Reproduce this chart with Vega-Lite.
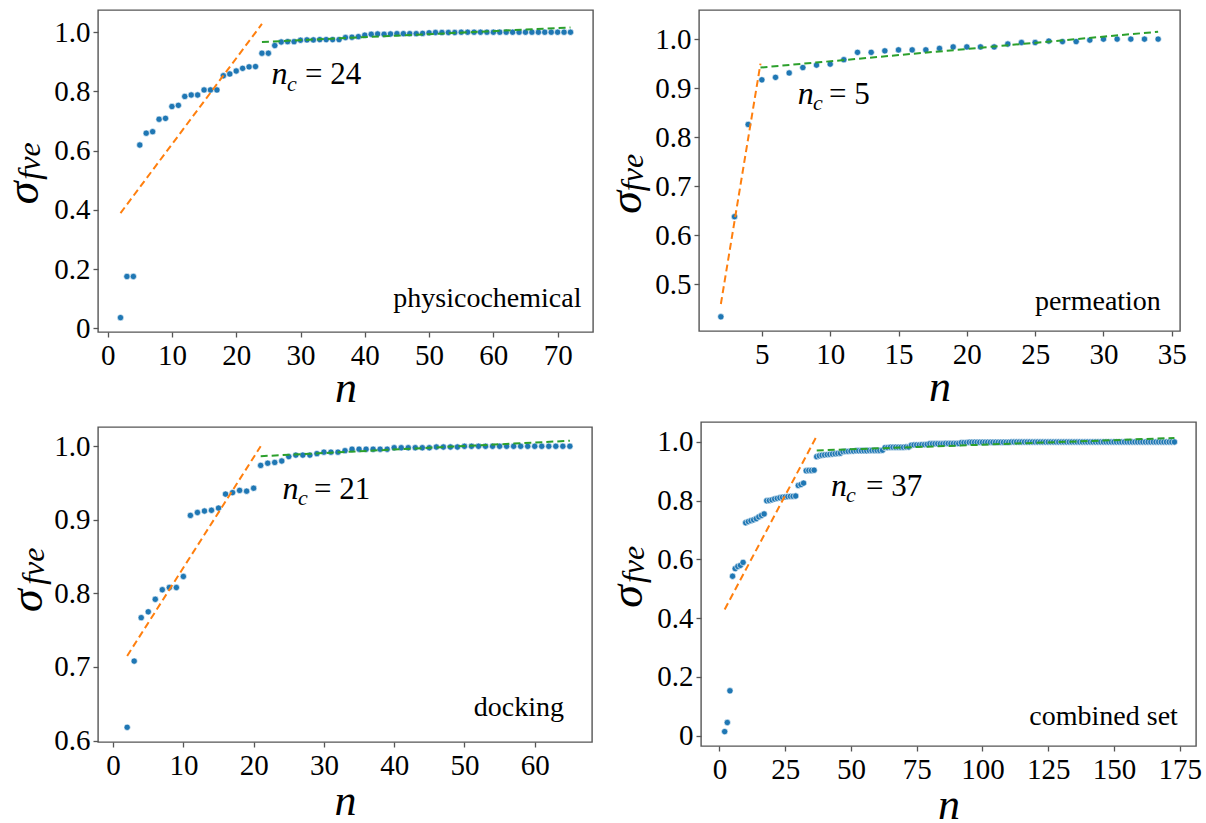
{
"$schema": "https://vega.github.io/schema/vega-lite/v6.json",
"padding": {"left": 0, "top": 9, "right": 5, "bottom": 5},
"background": "white",
"config": {
  "view": {"stroke": "#555", "strokeWidth": 1.4},
  "axis": {"domain": false, "grid": false, "labelFont": "Liberation Serif", "labelFontSize": 29, "labelColor": "black", "tickColor": "#555", "tickSize": 5, "tickWidth": 1.3, "labelFlush": false, "labelOverlap": false, "titleFont": "Liberation Serif", "titleFontStyle": "italic", "titleFontWeight": "normal", "titleFontSize": 44, "titleColor": "black"},
  "axisY": {"labelPadding": 3},
  "axisX": {"labelPadding": 4, "titlePadding": -4}
},
"datasets": {
  "p1": [{"n":2,"v":0.036},{"n":3,"v":0.175},{"n":4,"v":0.175},{"n":5,"v":0.619},{"n":6,"v":0.659},{"n":7,"v":0.664},{"n":8,"v":0.706},{"n":9,"v":0.709},{"n":10,"v":0.749},{"n":11,"v":0.753},{"n":12,"v":0.783},{"n":13,"v":0.788},{"n":14,"v":0.788},{"n":15,"v":0.805},{"n":16,"v":0.805},{"n":17,"v":0.805},{"n":18,"v":0.853},{"n":19,"v":0.859},{"n":20,"v":0.869},{"n":21,"v":0.878},{"n":22,"v":0.883},{"n":23,"v":0.884},{"n":24,"v":0.929},{"n":25,"v":0.929},{"n":26,"v":0.955},{"n":27,"v":0.967},{"n":28,"v":0.968},{"n":29,"v":0.968},{"n":30,"v":0.973},{"n":31,"v":0.974},{"n":32,"v":0.974},{"n":33,"v":0.975},{"n":34,"v":0.975},{"n":35,"v":0.975},{"n":36,"v":0.975},{"n":37,"v":0.982},{"n":38,"v":0.983},{"n":39,"v":0.985},{"n":40,"v":0.99},{"n":41,"v":0.993},{"n":42,"v":0.994},{"n":43,"v":0.993},{"n":44,"v":0.994},{"n":45,"v":0.995},{"n":46,"v":0.995},{"n":47,"v":0.995},{"n":48,"v":0.995},{"n":49,"v":0.996},{"n":50,"v":0.998},{"n":51,"v":0.999},{"n":52,"v":0.999},{"n":53,"v":0.999},{"n":54,"v":0.999},{"n":55,"v":1.0},{"n":56,"v":1.0},{"n":57,"v":1.0},{"n":58,"v":1.0},{"n":59,"v":1.0},{"n":60,"v":1.0},{"n":61,"v":1.0},{"n":62,"v":1.0},{"n":63,"v":1.0},{"n":64,"v":1.0},{"n":65,"v":1.0},{"n":66,"v":1.0},{"n":67,"v":1.0},{"n":68,"v":1.0},{"n":69,"v":1.0},{"n":70,"v":1.0},{"n":71,"v":1.0},{"n":72,"v":1.0}],
  "p2": [{"n":2,"v":0.434},{"n":3,"v":0.638},{"n":4,"v":0.826},{"n":5,"v":0.917},{"n":6,"v":0.922},{"n":7,"v":0.931},{"n":8,"v":0.942},{"n":9,"v":0.947},{"n":10,"v":0.949},{"n":11,"v":0.958},{"n":12,"v":0.973},{"n":13,"v":0.973},{"n":14,"v":0.976},{"n":15,"v":0.978},{"n":16,"v":0.978},{"n":17,"v":0.978},{"n":18,"v":0.981},{"n":19,"v":0.984},{"n":20,"v":0.984},{"n":21,"v":0.984},{"n":22,"v":0.984},{"n":23,"v":0.99},{"n":24,"v":0.993},{"n":25,"v":0.993},{"n":26,"v":0.996},{"n":27,"v":0.995},{"n":28,"v":0.995},{"n":29,"v":0.998},{"n":30,"v":1.0},{"n":31,"v":1.0},{"n":32,"v":1.0},{"n":33,"v":1.0},{"n":34,"v":1.0}],
  "p3": [{"n":2,"v":0.618},{"n":3,"v":0.708},{"n":4,"v":0.767},{"n":5,"v":0.775},{"n":6,"v":0.792},{"n":7,"v":0.805},{"n":8,"v":0.808},{"n":9,"v":0.808},{"n":10,"v":0.823},{"n":11,"v":0.906},{"n":12,"v":0.91},{"n":13,"v":0.912},{"n":14,"v":0.913},{"n":15,"v":0.916},{"n":16,"v":0.935},{"n":17,"v":0.937},{"n":18,"v":0.94},{"n":19,"v":0.939},{"n":20,"v":0.943},{"n":21,"v":0.974},{"n":22,"v":0.977},{"n":23,"v":0.978},{"n":24,"v":0.98},{"n":25,"v":0.986},{"n":26,"v":0.988},{"n":27,"v":0.988},{"n":28,"v":0.988},{"n":29,"v":0.99},{"n":30,"v":0.992},{"n":31,"v":0.992},{"n":32,"v":0.992},{"n":33,"v":0.994},{"n":34,"v":0.996},{"n":35,"v":0.996},{"n":36,"v":0.996},{"n":37,"v":0.996},{"n":38,"v":0.996},{"n":39,"v":0.996},{"n":40,"v":0.998},{"n":41,"v":0.998},{"n":42,"v":0.998},{"n":43,"v":0.998},{"n":44,"v":0.998},{"n":45,"v":0.998},{"n":46,"v":0.999},{"n":47,"v":0.999},{"n":48,"v":0.999},{"n":49,"v":0.999},{"n":50,"v":1.0},{"n":51,"v":1.0},{"n":52,"v":1.0},{"n":53,"v":1.0},{"n":54,"v":1.0},{"n":55,"v":1.0},{"n":56,"v":1.0},{"n":57,"v":1.0},{"n":58,"v":1.0},{"n":59,"v":1.0},{"n":60,"v":1.0},{"n":61,"v":1.0},{"n":62,"v":1.0},{"n":63,"v":1.0},{"n":64,"v":1.0},{"n":65,"v":1.0}],
  "p4": [{"n":2,"v":0.014},{"n":3,"v":0.045},{"n":4,"v":0.153},{"n":5,"v":0.543},{"n":6,"v":0.569},{"n":7,"v":0.576},{"n":8,"v":0.58},{"n":9,"v":0.59},{"n":10,"v":0.725},{"n":11,"v":0.729},{"n":12,"v":0.732},{"n":13,"v":0.735},{"n":14,"v":0.739},{"n":15,"v":0.745},{"n":16,"v":0.75},{"n":17,"v":0.755},{"n":18,"v":0.8},{"n":19,"v":0.801},{"n":20,"v":0.803},{"n":21,"v":0.806},{"n":22,"v":0.808},{"n":23,"v":0.81},{"n":24,"v":0.812},{"n":25,"v":0.813},{"n":26,"v":0.814},{"n":27,"v":0.815},{"n":28,"v":0.815},{"n":29,"v":0.816},{"n":30,"v":0.852},{"n":31,"v":0.855},{"n":32,"v":0.86},{"n":33,"v":0.902},{"n":34,"v":0.903},{"n":35,"v":0.903},{"n":36,"v":0.904},{"n":37,"v":0.95},{"n":38,"v":0.953},{"n":39,"v":0.955},{"n":40,"v":0.956},{"n":41,"v":0.957},{"n":42,"v":0.958},{"n":43,"v":0.959},{"n":44,"v":0.96},{"n":45,"v":0.961},{"n":46,"v":0.962},{"n":47,"v":0.967},{"n":48,"v":0.968},{"n":49,"v":0.968},{"n":50,"v":0.969},{"n":51,"v":0.969},{"n":52,"v":0.97},{"n":53,"v":0.97},{"n":54,"v":0.97},{"n":55,"v":0.97},{"n":56,"v":0.97},{"n":57,"v":0.971},{"n":58,"v":0.971},{"n":59,"v":0.971},{"n":60,"v":0.971},{"n":61,"v":0.971},{"n":62,"v":0.972},{"n":63,"v":0.981},{"n":64,"v":0.981},{"n":65,"v":0.982},{"n":66,"v":0.982},{"n":67,"v":0.982},{"n":68,"v":0.982},{"n":69,"v":0.982},{"n":70,"v":0.982},{"n":71,"v":0.983},{"n":72,"v":0.983},{"n":73,"v":0.989},{"n":74,"v":0.99},{"n":75,"v":0.99},{"n":76,"v":0.99},{"n":77,"v":0.991},{"n":78,"v":0.991},{"n":79,"v":0.992},{"n":80,"v":0.994},{"n":81,"v":0.994},{"n":82,"v":0.994},{"n":83,"v":0.994},{"n":84,"v":0.994},{"n":85,"v":0.994},{"n":86,"v":0.995},{"n":87,"v":0.995},{"n":88,"v":0.995},{"n":89,"v":0.995},{"n":90,"v":0.995},{"n":91,"v":0.995},{"n":92,"v":0.998},{"n":93,"v":0.998},{"n":94,"v":0.998},{"n":95,"v":0.999},{"n":96,"v":0.999},{"n":97,"v":0.999},{"n":98,"v":0.999},{"n":99,"v":0.999},{"n":100,"v":0.999},{"n":101,"v":0.999},{"n":102,"v":0.999},{"n":103,"v":0.999},{"n":104,"v":0.999},{"n":105,"v":0.999},{"n":106,"v":0.999},{"n":107,"v":0.999},{"n":108,"v":0.999},{"n":109,"v":0.999},{"n":110,"v":0.999},{"n":111,"v":1.0},{"n":112,"v":1.0},{"n":113,"v":1.0},{"n":114,"v":1.0},{"n":115,"v":1.0},{"n":116,"v":1.0},{"n":117,"v":1.0},{"n":118,"v":1.0},{"n":119,"v":1.0},{"n":120,"v":1.0},{"n":121,"v":1.0},{"n":122,"v":1.0},{"n":123,"v":1.0},{"n":124,"v":1.0},{"n":125,"v":1.0},{"n":126,"v":1.0},{"n":127,"v":1.0},{"n":128,"v":1.0},{"n":129,"v":1.0},{"n":130,"v":1.0},{"n":131,"v":1.0},{"n":132,"v":1.0},{"n":133,"v":1.0},{"n":134,"v":1.0},{"n":135,"v":1.0},{"n":136,"v":1.0},{"n":137,"v":1.0},{"n":138,"v":1.0},{"n":139,"v":1.0},{"n":140,"v":1.0},{"n":141,"v":1.0},{"n":142,"v":1.0},{"n":143,"v":1.0},{"n":144,"v":1.0},{"n":145,"v":1.0},{"n":146,"v":1.0},{"n":147,"v":1.0},{"n":148,"v":1.0},{"n":149,"v":1.0},{"n":150,"v":1.0},{"n":151,"v":1.0},{"n":152,"v":1.0},{"n":153,"v":1.0},{"n":154,"v":1.0},{"n":155,"v":1.0},{"n":156,"v":1.0},{"n":157,"v":1.0},{"n":158,"v":1.0},{"n":159,"v":1.0},{"n":160,"v":1.0},{"n":161,"v":1.0},{"n":162,"v":1.0},{"n":163,"v":1.0},{"n":164,"v":1.0},{"n":165,"v":1.0},{"n":166,"v":1.0},{"n":167,"v":1.0},{"n":168,"v":1.0},{"n":169,"v":1.0},{"n":170,"v":1.0},{"n":171,"v":1.0},{"n":172,"v":1.0},{"n":173,"v":1.0}]
},
"concat": [
  {"width": 495, "height": 322, "data": {"name": "p1"},
   "layer": [
    {"mark": {"type": "point", "filled": true, "size": 40, "color": "#1f77b4", "stroke": "white", "strokeWidth": 0.6, "opacity": 1},
     "encoding": {
      "x": {"field": "n", "type": "quantitative", "scale": {"domain": [-1.5, 75.5], "nice": false, "zero": false}, "axis": {"title": "n", "values": [0,10,20,30,40,50,60,70]}},
      "y": {"field": "v", "type": "quantitative", "scale": {"domain": [-0.0125, 1.075], "nice": false, "zero": false}, "axis": {"title": null, "values": [0,0.2,0.4,0.6,0.8,1.0], "labelExpr": "datum.value == 0 ? '0' : format(datum.value, '.1f')"}}}},
    {"data": {"values": [{"n": 2, "v": 0.389}, {"n": 24, "v": 1.028}]}, "mark": {"type": "line", "color": "#ff7f0e", "strokeDash": [7, 4], "strokeWidth": 2}, "encoding": {"x": {"field": "n", "type": "quantitative"}, "y": {"field": "v", "type": "quantitative"}}},
    {"data": {"values": [{"n": 24, "v": 0.967}, {"n": 72, "v": 1.016}]}, "mark": {"type": "line", "color": "#2ca02c", "strokeDash": [7, 4], "strokeWidth": 2}, "encoding": {"x": {"field": "n", "type": "quantitative"}, "y": {"field": "v", "type": "quantitative"}}},
    {"data": {"values": [{}]}, "mark": {"type": "text", "text": "σ", "font": "Liberation Serif", "fontStyle": "italic", "fontSize": 46, "angle": 270, "align": "center", "baseline": "alphabetic", "color": "black"}, "encoding": {"x": {"datum": -10.756, "type": "quantitative"}, "y": {"datum": 0.457, "type": "quantitative"}}},
    {"data": {"values": [{}]}, "mark": {"type": "text", "text": "fve", "font": "Liberation Serif", "fontStyle": "italic", "fontSize": 32, "angle": 270, "align": "center", "baseline": "alphabetic", "color": "black"}, "encoding": {"x": {"datum": -10.445, "type": "quantitative"}, "y": {"datum": 0.565, "type": "quantitative"}}},
    {"data": {"values": [{}]}, "mark": {"type": "text", "text": "n", "font": "Liberation Serif", "fontStyle": "italic", "fontSize": 32, "align": "left", "baseline": "alphabetic", "color": "black"}, "encoding": {"x": {"datum": 25.5, "type": "quantitative"}, "y": {"datum": 0.825, "type": "quantitative"}}},
    {"data": {"values": [{}]}, "mark": {"type": "text", "text": "c", "font": "Liberation Serif", "fontStyle": "italic", "fontSize": 22, "align": "left", "baseline": "alphabetic", "color": "black"}, "encoding": {"x": {"datum": 27.9, "type": "quantitative"}, "y": {"datum": 0.801, "type": "quantitative"}}},
    {"data": {"values": [{}]}, "mark": {"type": "text", "text": "= 24", "font": "Liberation Serif", "fontSize": 31, "align": "left", "baseline": "alphabetic", "color": "black"}, "encoding": {"x": {"datum": 30.7, "type": "quantitative"}, "y": {"datum": 0.825, "type": "quantitative"}}},
    {"data": {"values": [{}]}, "mark": {"type": "text", "text": "physicochemical", "font": "Liberation Serif", "fontSize": 28, "align": "right", "baseline": "alphabetic", "color": "black"}, "encoding": {"x": {"datum": 73.7, "type": "quantitative"}, "y": {"datum": 0.072, "type": "quantitative"}}}
   ]},
  {"width": 481, "height": 321, "data": {"name": "p2"},
   "layer": [
    {"mark": {"type": "point", "filled": true, "size": 40, "color": "#1f77b4", "stroke": "white", "strokeWidth": 0.6, "opacity": 1},
     "encoding": {
      "x": {"field": "n", "type": "quantitative", "scale": {"domain": [0.4, 35.6], "nice": false, "zero": false}, "axis": {"title": "n", "values": [5,10,15,20,25,30,35]}},
      "y": {"field": "v", "type": "quantitative", "scale": {"domain": [0.405, 1.0593], "nice": false, "zero": false}, "axis": {"title": null, "values": [0.5,0.6,0.7,0.8,0.9,1.0], "format": ".1f"}}}},
    {"data": {"values": [{"n": 2, "v": 0.46}, {"n": 4.9, "v": 0.95}]}, "mark": {"type": "line", "color": "#ff7f0e", "strokeDash": [7, 4], "strokeWidth": 2}, "encoding": {"x": {"field": "n", "type": "quantitative"}, "y": {"field": "v", "type": "quantitative"}}},
    {"data": {"values": [{"n": 4.9, "v": 0.942}, {"n": 34, "v": 1.015}]}, "mark": {"type": "line", "color": "#2ca02c", "strokeDash": [7, 4], "strokeWidth": 2}, "encoding": {"x": {"field": "n", "type": "quantitative"}, "y": {"field": "v", "type": "quantitative"}}},
    {"data": {"values": [{}]}, "mark": {"type": "text", "text": "σ", "font": "Liberation Serif", "fontStyle": "italic", "fontSize": 46, "angle": 270, "align": "center", "baseline": "alphabetic", "color": "black"}, "encoding": {"x": {"datum": -3.84, "type": "quantitative"}, "y": {"datum": 0.667, "type": "quantitative"}}},
    {"data": {"values": [{}]}, "mark": {"type": "text", "text": "fve", "font": "Liberation Serif", "fontStyle": "italic", "fontSize": 32, "angle": 270, "align": "center", "baseline": "alphabetic", "color": "black"}, "encoding": {"x": {"datum": -3.7, "type": "quantitative"}, "y": {"datum": 0.728, "type": "quantitative"}}},
    {"data": {"values": [{}]}, "mark": {"type": "text", "text": "n", "font": "Liberation Serif", "fontStyle": "italic", "fontSize": 32, "align": "left", "baseline": "alphabetic", "color": "black"}, "encoding": {"x": {"datum": 7.62, "type": "quantitative"}, "y": {"datum": 0.867, "type": "quantitative"}}},
    {"data": {"values": [{}]}, "mark": {"type": "text", "text": "c", "font": "Liberation Serif", "fontStyle": "italic", "fontSize": 22, "align": "left", "baseline": "alphabetic", "color": "black"}, "encoding": {"x": {"datum": 8.74, "type": "quantitative"}, "y": {"datum": 0.855, "type": "quantitative"}}},
    {"data": {"values": [{}]}, "mark": {"type": "text", "text": "= 5", "font": "Liberation Serif", "fontSize": 31, "align": "left", "baseline": "alphabetic", "color": "black"}, "encoding": {"x": {"datum": 9.91, "type": "quantitative"}, "y": {"datum": 0.867, "type": "quantitative"}}},
    {"data": {"values": [{}]}, "mark": {"type": "text", "text": "permeation", "font": "Liberation Serif", "fontSize": 28, "align": "right", "baseline": "alphabetic", "color": "black"}, "encoding": {"x": {"datum": 34.2, "type": "quantitative"}, "y": {"datum": 0.447, "type": "quantitative"}}}
   ]},
  {"width": 494, "height": 315, "data": {"name": "p3"},
   "title": {"text": " ", "orient": "top", "fontSize": 2, "offset": 3},
   "layer": [
    {"mark": {"type": "point", "filled": true, "size": 40, "color": "#1f77b4", "stroke": "white", "strokeWidth": 0.6, "opacity": 1},
     "encoding": {
      "x": {"field": "n", "type": "quantitative", "scale": {"domain": [-2.15, 68.15], "nice": false, "zero": false}, "axis": {"title": "n", "titlePadding": -1, "values": [0,10,20,30,40,50,60]}},
      "y": {"field": "v", "type": "quantitative", "scale": {"domain": [0.598, 1.0262], "nice": false, "zero": false}, "axis": {"title": null, "values": [0.6,0.65,0.7,0.75,0.8,0.85,0.9,0.95,1.0], "labelExpr": "abs(datum.value*10 - round(datum.value*10)) < 0.01 ? format(datum.value, '.1f') : ''"}}}},
    {"data": {"values": [{"n": 2, "v": 0.715}, {"n": 21, "v": 1.0}]}, "mark": {"type": "line", "color": "#ff7f0e", "strokeDash": [7, 4], "strokeWidth": 2}, "encoding": {"x": {"field": "n", "type": "quantitative"}, "y": {"field": "v", "type": "quantitative"}}},
    {"data": {"values": [{"n": 21, "v": 0.9865}, {"n": 65, "v": 1.0075}]}, "mark": {"type": "line", "color": "#2ca02c", "strokeDash": [7, 4], "strokeWidth": 2}, "encoding": {"x": {"field": "n", "type": "quantitative"}, "y": {"field": "v", "type": "quantitative"}}},
    {"data": {"values": [{}]}, "mark": {"type": "text", "text": "σ", "font": "Liberation Serif", "fontStyle": "italic", "fontSize": 46, "angle": 270, "align": "center", "baseline": "alphabetic", "color": "black"}, "encoding": {"x": {"datum": -10.12, "type": "quantitative"}, "y": {"datum": 0.79, "type": "quantitative"}}},
    {"data": {"values": [{}]}, "mark": {"type": "text", "text": "fve", "font": "Liberation Serif", "fontStyle": "italic", "fontSize": 32, "angle": 270, "align": "center", "baseline": "alphabetic", "color": "black"}, "encoding": {"x": {"datum": -9.83, "type": "quantitative"}, "y": {"datum": 0.837, "type": "quantitative"}}},
    {"data": {"values": [{}]}, "mark": {"type": "text", "text": "n", "font": "Liberation Serif", "fontStyle": "italic", "fontSize": 32, "align": "left", "baseline": "alphabetic", "color": "black"}, "encoding": {"x": {"datum": 24.1, "type": "quantitative"}, "y": {"datum": 0.928, "type": "quantitative"}}},
    {"data": {"values": [{}]}, "mark": {"type": "text", "text": "c", "font": "Liberation Serif", "fontStyle": "italic", "fontSize": 22, "align": "left", "baseline": "alphabetic", "color": "black"}, "encoding": {"x": {"datum": 26.3, "type": "quantitative"}, "y": {"datum": 0.92, "type": "quantitative"}}},
    {"data": {"values": [{}]}, "mark": {"type": "text", "text": "= 21", "font": "Liberation Serif", "fontSize": 31, "align": "left", "baseline": "alphabetic", "color": "black"}, "encoding": {"x": {"datum": 28.6, "type": "quantitative"}, "y": {"datum": 0.928, "type": "quantitative"}}},
    {"data": {"values": [{}]}, "mark": {"type": "text", "text": "docking", "font": "Liberation Serif", "fontSize": 28, "align": "right", "baseline": "alphabetic", "color": "black"}, "encoding": {"x": {"datum": 64.17, "type": "quantitative"}, "y": {"datum": 0.634, "type": "quantitative"}}}
   ]},
  {"width": 495, "height": 324, "data": {"name": "p4"},
   "layer": [
    {"mark": {"type": "point", "filled": true, "size": 40, "color": "#1f77b4", "stroke": "white", "strokeWidth": 0.6, "opacity": 1},
     "encoding": {
      "x": {"field": "n", "type": "quantitative", "scale": {"domain": [-7, 181.2], "nice": false, "zero": false}, "axis": {"title": "n", "titlePadding": -1, "values": [0,25,50,75,100,125,150,175]}},
      "y": {"field": "v", "type": "quantitative", "scale": {"domain": [-0.035, 1.068], "nice": false, "zero": false}, "axis": {"title": null, "values": [0,0.2,0.4,0.6,0.8,1.0], "labelExpr": "datum.value == 0 ? '0' : format(datum.value, '.1f')"}}}},
    {"data": {"values": [{"n": 2, "v": 0.43}, {"n": 37, "v": 1.02}]}, "mark": {"type": "line", "color": "#ff7f0e", "strokeDash": [7, 4], "strokeWidth": 2}, "encoding": {"x": {"field": "n", "type": "quantitative"}, "y": {"field": "v", "type": "quantitative"}}},
    {"data": {"values": [{"n": 37, "v": 0.971}, {"n": 173, "v": 1.0135}]}, "mark": {"type": "line", "color": "#2ca02c", "strokeDash": [7, 4], "strokeWidth": 2}, "encoding": {"x": {"field": "n", "type": "quantitative"}, "y": {"field": "v", "type": "quantitative"}}},
    {"data": {"values": [{}]}, "mark": {"type": "text", "text": "σ", "font": "Liberation Serif", "fontStyle": "italic", "fontSize": 46, "angle": 270, "align": "center", "baseline": "alphabetic", "color": "black"}, "encoding": {"x": {"datum": -29.6, "type": "quantitative"}, "y": {"datum": 0.474, "type": "quantitative"}}},
    {"data": {"values": [{}]}, "mark": {"type": "text", "text": "fve", "font": "Liberation Serif", "fontStyle": "italic", "fontSize": 32, "angle": 270, "align": "center", "baseline": "alphabetic", "color": "black"}, "encoding": {"x": {"datum": -28.85, "type": "quantitative"}, "y": {"datum": 0.583, "type": "quantitative"}}},
    {"data": {"values": [{}]}, "mark": {"type": "text", "text": "n", "font": "Liberation Serif", "fontStyle": "italic", "fontSize": 32, "align": "left", "baseline": "alphabetic", "color": "black"}, "encoding": {"x": {"datum": 42.4, "type": "quantitative"}, "y": {"datum": 0.817, "type": "quantitative"}}},
    {"data": {"values": [{}]}, "mark": {"type": "text", "text": "c", "font": "Liberation Serif", "fontStyle": "italic", "fontSize": 22, "align": "left", "baseline": "alphabetic", "color": "black"}, "encoding": {"x": {"datum": 48.1, "type": "quantitative"}, "y": {"datum": 0.797, "type": "quantitative"}}},
    {"data": {"values": [{}]}, "mark": {"type": "text", "text": "= 37", "font": "Liberation Serif", "fontSize": 31, "align": "left", "baseline": "alphabetic", "color": "black"}, "encoding": {"x": {"datum": 55.7, "type": "quantitative"}, "y": {"datum": 0.817, "type": "quantitative"}}},
    {"data": {"values": [{}]}, "mark": {"type": "text", "text": "combined set", "font": "Liberation Serif", "fontSize": 28, "align": "right", "baseline": "alphabetic", "color": "black"}, "encoding": {"x": {"datum": 174.3, "type": "quantitative"}, "y": {"datum": 0.035, "type": "quantitative"}}}
   ]}
],
"columns": 2,
"align": "none",
"spacing": {"row": 10, "column": 9}
}
